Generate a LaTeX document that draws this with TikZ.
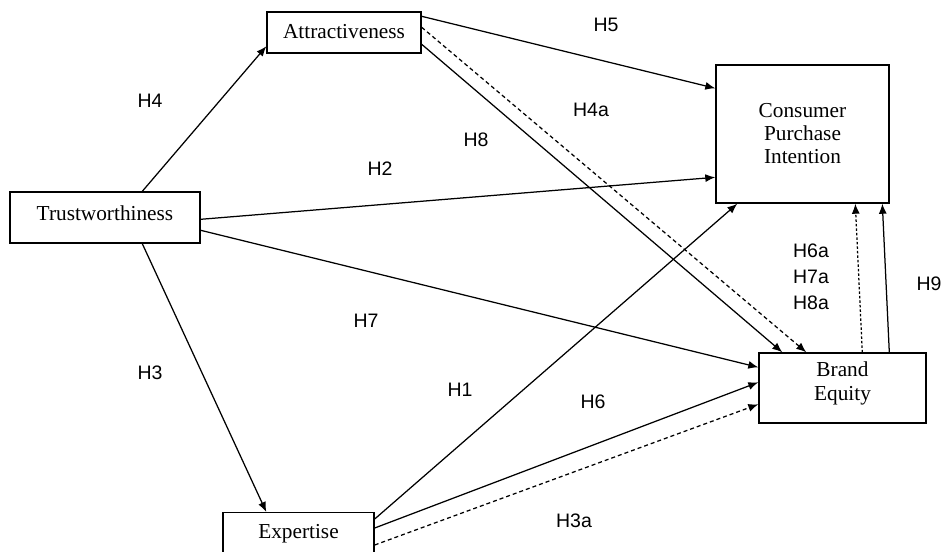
\documentclass[tikz,border=0pt]{standalone}
\usepackage{fontspec}
\setmainfont{Liberation Serif}
\newfontfamily\labfont{Liberation Sans}
\usetikzlibrary{arrows.meta,calc}
\begin{document}
\begin{tikzpicture}[x=1pt,y=-1pt,
  box/.style={draw,line width=1.4pt,inner sep=0pt,align=center,font=\fontsize{21.3}{23}\selectfont},
  lab/.style={font=\labfont\fontsize{19.5}{22}\selectfont,inner sep=0pt},
  arr/.style={line width=1.25pt,-{Latex[length=10pt,width=8pt]}},
  dsh/.style={arr,dash pattern=on 4pt off 3pt},
  dotl/.style={arr,dash pattern=on 2.5pt off 2pt}]
\useasboundingbox (0,0) rectangle (941,551);
\fill[white] (0,0) rectangle (941,551);
\clip (0,0) rectangle (941,551);
% boxes
\node[box,minimum width=154pt,minimum height=41pt,text height=14.5pt,text depth=3.5pt] (attr) at (344,32.5) {Attractiveness};
\node[box,minimum width=190pt,minimum height=51pt,text height=14.5pt,text depth=9.5pt] (trust) at (105,217.5) {Trustworthiness};
\node[box,minimum width=173pt,minimum height=138pt] (cpi) at (802.5,134) {Consumer\\Purchase\\Intention};
\node[box,minimum width=167pt,minimum height=70pt,text depth=13pt,font=\fontsize{21.3}{24}\selectfont] (be) at (842.5,388) {Brand\\Equity};
\node[box,anchor=north,minimum width=151pt,text height=26pt,text depth=40pt] (exp) at (298.5,512) {Expertise};
% connectors
\draw[arr] ($(trust.north west)+(133,0)$) -- ($(attr.north west)+(0,35)$);
\draw[arr] ($(trust.north east)+(0,28)$) -- ($(cpi.north west)+(0,113)$);
\draw[arr] ($(trust.north east)+(0,39)$) -- ($(be.north west)+(0,15)$);
\draw[arr] ($(trust.south west)+(133,0)$) -- ($(exp.north west)+(44,0)$);
\draw[arr] ($(attr.north east)+(0,5)$) -- ($(cpi.north west)+(0,24)$);
\draw[arr] ($(attr.north east)+(0,33)$) -- ($(be.north west)+(24,0)$);
\draw[dsh] ($(attr.north east)+(0,16)$) -- ($(be.north west)+(48,0)$);
\draw[arr] ($(exp.north east)+(0,7)$) -- ($(cpi.south west)+(22,0)$);
\draw[arr] ($(exp.north east)+(0,16)$) -- ($(be.north west)+(0,30)$);
\draw[dsh] ($(exp.north east)+(0,33)$) -- ($(be.north west)+(0,52)$);
\draw[dotl] ($(be.north west)+(104,0)$) -- ($(cpi.south west)+(140,0)$);
\draw[arr] ($(be.north west)+(131,0)$) -- ($(cpi.south west)+(167,0)$);
% labels
\node[lab] (h4) at (150,101) {H4};
\node[lab] (h2) at (380,169) {H2};
\node[lab] (h8) at (476,140) {H8};
\node[lab] (h4a) at (591,110) {H4a};
\node[lab] (h5) at (606,25) {H5};
\node[lab] (h6a) at (811,251) {H6a};
\node[lab] (h7a) at (811,277) {H7a};
\node[lab] (h8a) at (811,303) {H8a};
\node[lab] (h9) at (929,284) {H9};
\node[lab] (h7) at (366,321) {H7};
\node[lab] (h3) at (150,373) {H3};
\node[lab] (h1) at (460,390) {H1};
\node[lab] (h6) at (593,402) {H6};
\node[lab] (h3a) at (574,521) {H3a};
\end{tikzpicture}
\end{document}
